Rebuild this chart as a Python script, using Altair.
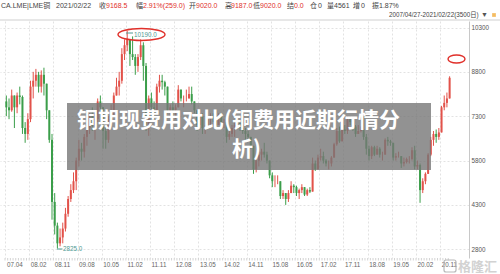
import altair as alt
import pandas as pd

# ---------------- data (monthly candles, 2007-05 .. 2021-02) ----------------
first_open = 7800
closes = [
    7600, 7500, 8000, 7600, 8000, 7950, 6900, 6700,
    7200, 8300, 8500, 8700, 8300, 8700, 8400, 7500, 6500, 4400, 3600, 3000,
    3200, 3500, 4000, 4500, 4800, 5100, 5800, 6200, 6100, 6600, 6900, 7300,
    7000, 7200, 7800, 7600, 6800, 6500, 7200, 7400, 8000, 8300, 8500, 9400,
    9700, 9900, 9400, 9300, 9000, 9300, 9700, 9000, 7000, 7900, 7600, 7500,
    8300, 8500, 8450, 8300, 7500, 7600, 7500, 7600, 8200, 7900, 7900, 7900,
    8050, 7800, 7500, 7000, 7300, 6900, 6900, 7200, 7250, 7200, 7000, 7350,
    7100, 7100, 6600, 6700, 6900, 7000, 7100, 6900, 6800, 6700, 6600, 6300,
    5500, 5800, 6000, 6100, 6000, 5800, 5300, 5100, 5100, 5100, 4600, 4700,
    4500, 4700, 4950, 4900, 4700, 4800, 4900, 4650, 4800, 4750, 5700, 5500,
    5900, 5950, 5800, 5700, 5700, 5900, 6350, 6800, 6450, 6850, 6800, 7200,
    7100, 6950, 6700, 6800, 6850, 6600, 6200, 5950, 6250, 6000, 6200, 6000,
    6000, 6500, 6450, 6400, 5900, 5950, 5950, 5700, 5750, 5850, 5850, 6150,
    5600, 5650, 4800, 5100, 5350, 6000, 6500, 6700, 6600, 6750, 7600, 7750,
    7900, 8600,
]
highs = [
    8000, 7900, 8200, 8000, 8100, 8300, 8000, 7100,
    7400, 8500, 8800, 8900, 8800, 8850, 8940, 8000, 7400, 6700, 4700, 3700,
    3500, 3700, 4200, 4600, 5000, 5400, 5900, 6500, 6400, 6700, 7000, 7400,
    7600, 7400, 7900, 8000, 7600, 7000, 7300, 7700, 8100, 8600, 8800, 9600,
    9900, 10190, 9900, 10000, 9400, 9400, 9900, 9800, 9100, 8000, 8100, 7800,
    8400, 8700, 8700, 8500, 8300, 7700, 7800, 7700, 8350, 8200, 8000, 8200,
    8300, 8300, 7700, 7500, 7400, 7400, 7000, 7300, 7400, 7400, 7200, 7400,
    7400, 7200, 7100, 6800, 7000, 7100, 7200, 7100, 7000, 6900, 6800, 6600,
    6300, 5900, 6100, 6200, 6400, 6100, 5800, 5400, 5300, 5300, 5100, 4800,
    4700, 4800, 5100, 5000, 4950, 4850, 5000, 4900, 4850, 4900, 5900, 5800,
    6000, 6200, 6100, 5850, 5800, 5950, 6400, 6900, 6950, 7200, 7000, 7300,
    7300, 7200, 7000, 7000, 6950, 7300, 6700, 6300, 6300, 6300, 6300, 6250,
    6100, 6550, 6600, 6500, 6400, 6050, 6100, 5900, 5900, 5900, 5950, 6250,
    6300, 5800, 5700, 5200, 5400, 6050, 6600, 6800, 6850, 6900, 7650, 8000,
    8100, 8650,
]
lows = [
    7300, 7200, 7450, 6900, 7400, 7700, 6700, 6400,
    6500, 7100, 7900, 8300, 8100, 8100, 8000, 7200, 6400, 3800, 3300, 2825,
    2900, 3000, 3400, 3900, 4400, 4700, 4800, 5600, 5800, 5900, 6300, 6700,
    6800, 6500, 7100, 7400, 6200, 6200, 6400, 7000, 7300, 8000, 8000, 8400,
    9200, 9500, 9000, 9200, 8700, 8800, 9200, 8500, 6800, 6635, 7200, 7200,
    7500, 8100, 8200, 8000, 7400, 7300, 7300, 7200, 7600, 7800, 7600, 7800,
    7900, 7700, 7400, 6800, 6900, 6700, 6700, 6900, 7000, 7100, 6900, 7000,
    7000, 6900, 6400, 6500, 6600, 6600, 6900, 6800, 6700, 6500, 6500, 6200,
    5350, 5400, 5600, 5800, 5900, 5700, 5200, 4900, 4900, 5000, 4500, 4500,
    4300, 4400, 4700, 4700, 4600, 4500, 4700, 4600, 4600, 4700, 4800, 5450,
    5500, 5800, 5700, 5600, 5500, 5600, 5900, 6300, 6400, 6450, 6700, 6700,
    7000, 6800, 6600, 6700, 6750, 6500, 6000, 5800, 5850, 5950, 6000, 5900,
    5800, 6000, 6300, 6300, 5800, 5800, 5900, 5550, 5600, 5700, 5700, 5800,
    5500, 5500, 4370, 4700, 5000, 5400, 5950, 6300, 6400, 6500, 6800, 7500,
    7600, 7900,
]

tick_vals = [1.15, 10, 19, 28, 37, 46, 55, 64, 73, 82, 91, 100, 109, 118, 127, 136, 145, 154, 163]
tick_labels = ["07.04", "08.02", "08.11", "09.08", "10.05", "11.02", "11.11", "12.08", "13.05",
               "14.02", "14.11", "15.08", "16.05", "17.02", "17.11", "18.08", "19.05", "20.02", "20.11"]
y_ticks = [2800, 4300, 5800, 7300, 8800, 10300]

header_items = [
    ("CA.LME|LME铜", "#444"), ("2021/02/22", "#444"), ("收", "#444"), ("9168.5", "#e0302a"),
    ("幅", "#444"), ("2.91%(259.0)", "#e0302a"), ("开", "#444"), ("9020.0", "#e0302a"),
    ("高", "#444"), ("9187.0", "#e0302a"), ("低", "#444"), ("9020.0", "#e0302a"),
    ("结", "#444"), ("0.0", "#e0302a"), ("仓", "#444"), ("0", "#444"),
    ("量", "#444"), ("4561", "#444"), ("增", "#444"), ("0", "#444"),
    ("振", "#444"), ("1.87%", "#444"),
]
header_x = [1, 56, 99, 106, 136, 143, 189, 196, 225, 231, 253, 260, 287, 294, 310, 318, 327, 334, 353, 361, 372, 379]
range_text = "2007/04/27-2021/02/22(3500日)"
title_line1 = "铜期现费用对比(铜费用近期行情分"
title_line2 = "析)"
peak_label = "10190.0"
low_label = "2825.0"
watermark = "格隆汇"

# ---------------- build table ----------------
opens = [first_open] + closes[:-1]
rows = []
for k, (o, c, h, l) in enumerate(zip(opens, closes, highs, lows)):
    m = k + 1
    rows.append({"m": m, "v": m + 0.5, "open": o, "close": c,
                 "high": max(h, o, c), "low": min(l, o, c),
                 "dir": "up" if c >= o else "down"})
df = pd.DataFrame(rows)

RED = "#e2524a"
GREEN = "#3b9e4a"
TEAL = "#4f9a94"
FONT = "Liberation Sans, Noto Sans CJK SC"

xscale = alt.Scale(domain=[1.0, 171.86], nice=False, zero=False)
yscale = alt.Scale(domain=[2504, 10520], nice=False, zero=False)

label_expr = ("[" + ",".join("'%s'" % t for t in tick_labels) + "][indexof(["
              + ",".join(str(v) for v in tick_vals) + "], datum.value)]")

xaxis = alt.Axis(values=tick_vals, labelExpr=label_expr, labelAlign="left", labelBaseline="top",
                 labelFontSize=6.3, labelColor="#666", labelPadding=3, labelFont="Liberation Sans",
                 labelFlush=False, labelOverlap=False, labelOffset=1, tickSize=0, domain=False,
                 grid=True, gridColor="#e2e2e2", gridDash=[2, 2], title=None)
yaxis = alt.Axis(values=y_ticks, orient="right", labelFontSize=6.3, labelColor="#555",
                 labelFont="Liberation Sans", labelPadding=2, tickSize=0, domain=True,
                 domainColor="#c8c8c8", grid=True, gridColor="#e2e2e2", gridDash=[2, 2],
                 title=None, format="d", labelFlush=False)

color = alt.Color("dir:N", scale=alt.Scale(domain=["up", "down"], range=[RED, GREEN]), legend=None)

wicks = alt.Chart(df).mark_rule(strokeWidth=1).encode(
    x=alt.X("v:Q", scale=xscale, axis=xaxis),
    y=alt.Y("low:Q", scale=yscale, axis=yaxis),
    y2="high:Q",
    color=color,
)
bodies = alt.Chart(df).mark_bar(width=2).encode(
    x=alt.X("v:Q", scale=xscale, axis=xaxis),
    y=alt.Y("open:Q", scale=yscale, axis=yaxis),
    y2="close:Q",
    color=color,
)
minor = alt.Chart(df).mark_rule(color="#c8c8c8", strokeWidth=0.8).encode(
    x=alt.X("m:Q", scale=xscale, axis=xaxis),
    y=alt.value(237), y2=alt.value(239.5),
)

one = pd.DataFrame({"a": [0]})
layers = [minor, wicks, bodies]


def txt(text, x, y, size, col, align="left", weight="normal", font=FONT, baseline="middle"):
    return alt.Chart(one).mark_text(text=text, align=align, baseline=baseline, fontSize=size,
                                    color=col, fontWeight=weight, font=font).encode(
        x=alt.value(x), y=alt.value(y))


def rule(x1, x2, y1, y2, col, w=1):
    return alt.Chart(one).mark_rule(color=col, strokeWidth=w).encode(
        x=alt.value(x1), x2=alt.value(x2), y=alt.value(y1), y2=alt.value(y2))


def ellipse(cx, cy, rx, ry, col):
    r = ry / rx
    k = 0.5523
    path = ("M 1 0 C 1 {a} {k} {r} 0 {r} C -{k} {r} -1 {a} -1 0 "
            "C -1 -{a} -{k} -{r} 0 -{r} C {k} -{r} 1 -{a} 1 0 Z").format(a=round(k * r, 4), k=k, r=round(r, 4))
    return alt.Chart(one).mark_point(shape=path, size=(2 * rx) ** 2, filled=False,
                                     stroke=col, strokeWidth=1.4, opacity=1).encode(
        x=alt.value(cx), y=alt.value(cy))


# header
for (t, c), x in zip(header_items, header_x):
    layers.append(txt(t, x, -15.5, 7, c))
layers.append(txt(range_text, 389, -6, 6.3, "#444"))
layers.append(txt("▼", 481, -6, 7, "#555"))
layers.append(alt.Chart(one).mark_square(size=14, color="#f0a020").encode(
    x=alt.value(494), y=alt.value(-6)))
layers.append(rule(0, 500, -1, -1, "#cfcfcf"))

# annotations
layers.append(rule(126, 133, 12, 12, TEAL))
layers.append(txt(peak_label, 134, 13.5, 6.3, TEAL))
layers.append(ellipse(141.5, 13.5, 23.5, 6, "#e0302a"))
layers.append(rule(57, 62.5, 228, 228, TEAL))
layers.append(txt(low_label, 63, 228, 6.3, TEAL))
layers.append(ellipse(456.5, 38, 8.5, 4, "#e0302a"))

# overlay title box
layers.append(alt.Chart(one).mark_rect(color="#777777", opacity=0.8).encode(
    x=alt.value(67), x2=alt.value(431), y=alt.value(82), y2=alt.value(149)))
layers.append(txt(title_line1, 77, 99.5, 21, "white", weight="bold", font="Noto Sans CJK SC"))
layers.append(txt(title_line2, 232, 128.5, 21, "white", weight="bold", font="Noto Sans CJK SC"))

# watermark
layers.append(alt.Chart(one).mark_rect(filled=False, stroke="#b8b8b8", strokeWidth=1.2,
                                       cornerRadius=2).encode(
    x=alt.value(444), x2=alt.value(456), y=alt.value(239), y2=alt.value(251)))
layers.append(txt(watermark, 458, 245.5, 13, "#d2d2d2", weight="bold", font="Noto Sans CJK SC"))

chart = alt.layer(*layers).properties(
    width=469, height=237,
    autosize=alt.AutoSizeParams(type="none"),
    padding={"left": 0, "top": 21, "right": 31, "bottom": 16},
    background="white",
).configure_view(stroke=None)

chart.save("out.html", embed_options={"renderer": "svg", "actions": False})
